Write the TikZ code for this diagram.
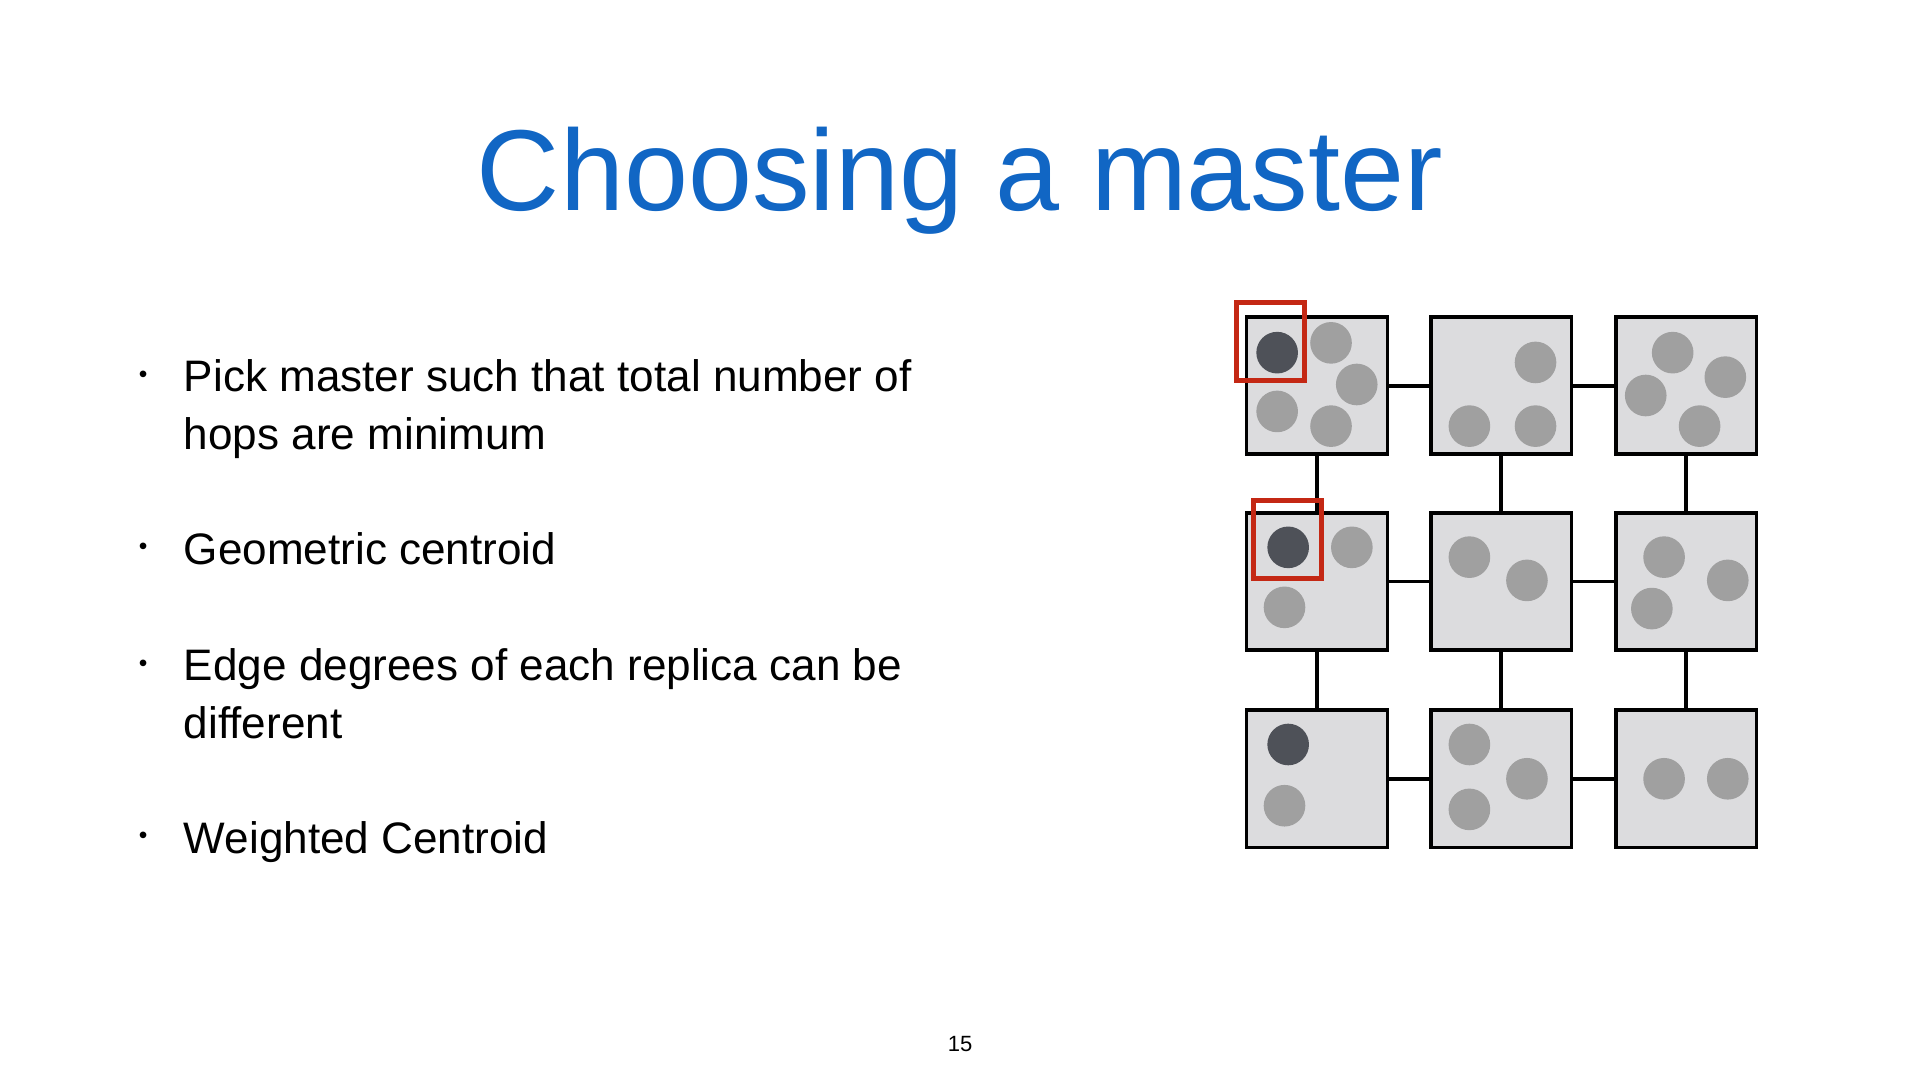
\documentclass[tikz,border=0pt]{standalone}
\usepackage{fontspec}
\setmainfont{Liberation Sans}
\definecolor{titleblue}{RGB}{17,102,196}
\definecolor{boxfill}{RGB}{220,220,222}
\definecolor{lightdot}{RGB}{160,160,160}
\definecolor{darkdot}{RGB}{78,81,88}
\definecolor{redmark}{RGB}{196,40,20}
\begin{document}
\begin{tikzpicture}[x=1pt,y=-1pt,
  cell/.style={draw=black,fill=boxfill,line width=3pt,minimum width=115pt,minimum height=112pt,inner sep=0pt},
  ld/.style={circle,fill=lightdot,minimum size=34pt,inner sep=0pt},
  dd/.style={circle,fill=darkdot,minimum size=34pt,inner sep=0pt},
  link/.style={line width=3pt,black},
  sel/.style={draw=redmark,line width=4pt},
  bul/.style={anchor=base west,inner sep=0pt,font=\fontsize{36}{40}\selectfont},
  dotb/.style={anchor=base,inner sep=0pt,font=\fontsize{20}{24}\selectfont}]
\useasboundingbox (0,0) rectangle (1568,882);
\node[text=titleblue,font=\fontsize{94}{100}\selectfont,anchor=base] (title) at (784,172) {Choosing a master};
\foreach \y/\n in {320/b1,461/b2,556/b3,697/b4}{\node[dotb] (\n) at (117,\y-8) {•};}
\node[bul] (t1) at (150,320) {Pick master such that total number of};
\node[bul] (t1b) at (150,367) {hops are minimum};
\node[bul] (t2) at (150,461) {Geometric centroid};
\node[bul] (t3) at (150,556) {Edge degrees of each replica can be};
\node[bul] (t3b) at (150,603) {different};
\node[bul] (t4) at (150,697) {Weighted Centroid};
\node[font=\fontsize{18}{20}\selectfont,anchor=base] (pg) at (784,859) {15};
% cells
\foreach \c/\x in {0/1075.5,1/1226,2/1377}{
  \foreach \r/\y in {0/315,1/475,2/636}{
    \node[cell] (c\c\r) at (\x,\y) {};}}
% links
\foreach \r in {0,1,2}{
  \draw[link] (c0\r.east) -- (c1\r.west);
  \draw[link] (c1\r.east) -- (c2\r.west);}
\foreach \c in {0,1,2}{
  \draw[link] ([yshift=3pt]c\c0.south) -- ([yshift=-3pt]c\c1.north);
  \draw[link] ([yshift=3pt]c\c1.south) -- ([yshift=-3pt]c\c2.north);}
% dots
\node[dd] (d1) at (1043,288) {};
\foreach \p [count=\i] in {(1087,280),(1108,314),(1043,336),(1087,348),
  (1254,296),(1200,348),(1254,348),
  (1366,288),(1409,308),(1344,323),(1388,348),
  (1104,447),(1049,496),(1200,455),(1247,474),
  (1359,455),(1411,474),(1349,497),
  (1049,658),(1200,608),(1247,636),(1200,661),(1359,636),(1411,636)}
  {\node[ld] (l\i) at \p {};}
\node[dd] (d2) at (1052,447) {};
\node[dd] (d3) at (1052,608) {};
% selection boxes
\node[sel,minimum width=55pt,minimum height=64pt,inner sep=0pt] (s1) at (1037.5,279) {};
\node[sel,minimum width=55pt,minimum height=64pt,inner sep=0pt] (s2) at (1051.5,440.5) {};
\end{tikzpicture}
\end{document}
